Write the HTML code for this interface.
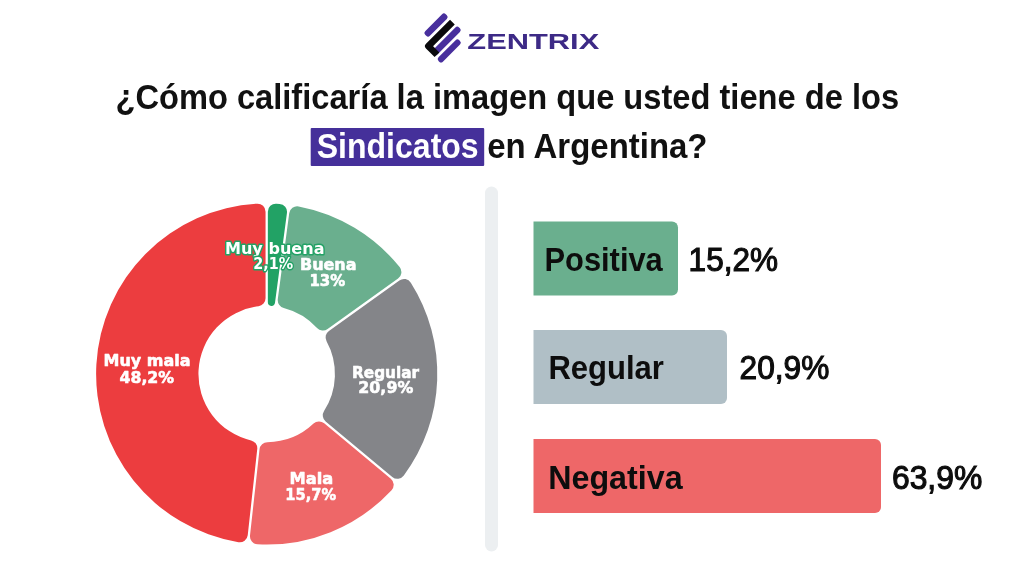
<!DOCTYPE html>
<html lang="es">
<head>
<meta charset="utf-8">
<title>Zentrix - Imagen de los Sindicatos en Argentina</title>
<style>
html,body{margin:0;padding:0;background:#fff;}
body{width:1024px;height:576px;overflow:hidden;position:relative;font-family:"Liberation Sans",sans-serif;}
svg{position:absolute;left:0;top:0;display:block;}
text{font-family:"Liberation Sans",sans-serif;}
.dl text{font-family:"DejaVu Sans","Liberation Sans",sans-serif;font-weight:bold;font-size:16.6px;fill:#fff;stroke-width:3px;paint-order:stroke fill;stroke-linejoin:round;}
.d0{stroke:#22a265;}.dl .d1,.dl .d2,.dl .d3,.dl .d4{stroke:#fff;stroke-width:0.6px;}
.h{font-weight:bold;font-size:35px;fill:#111;}
.hw{font-weight:bold;font-size:35px;fill:#fff;}
.bl{font-size:34px;font-weight:bold;fill:#0d0d0d;}
.bv{font-size:33px;fill:#0d0d0d;stroke:#0d0d0d;stroke-width:1.1px;stroke-linejoin:miter;}
.logo{font-size:22.6px;font-weight:bold;fill:#3d2a86;}
</style>
</head>
<body>
<svg width="1024" height="576" viewBox="0 0 1024 576">
<!-- logo -->
<g id="logo-mark">
<rect x="-14.55" y="-3.35" width="29.1" height="6.7" rx="2.6" fill="#482f9d" transform="translate(436.0,25.05) rotate(-45)"/>
<rect x="-19.5" y="-3.2" width="37" height="6.4" rx="2.6" fill="#482f9d" transform="translate(447.1,40.2) rotate(-45)"/>
<rect x="-14.7" y="-3.1" width="29.4" height="6.2" rx="2.6" fill="#482f9d" transform="translate(449.25,50.95) rotate(-45)"/>
<path d="M452.4,22.1 L428.35,46.15 L436.95,54.75" fill="none" stroke="#0a0a0c" stroke-width="6.7" stroke-linejoin="round" stroke-linecap="butt"/>
</g>
<text id="logo" class="logo" x="467.39" y="48.9" textLength="131.85" lengthAdjust="spacingAndGlyphs">ZENTRIX</text>
<!-- heading -->
<text id="h1" class="h" x="115.44" y="108.6" textLength="783.65" lengthAdjust="spacingAndGlyphs">¿Cómo calificaría la imagen que usted tiene de los</text>
<rect x="310.7" y="128.1" width="173.5" height="38" rx="1" fill="#45309a"/>
<text id="h2a" class="hw" x="316.69" y="157.8" textLength="162.00" lengthAdjust="spacingAndGlyphs">Sindicatos</text>
<text id="h2b" class="h" x="487.18" y="157.8" textLength="220.30" lengthAdjust="spacingAndGlyphs">en Argentina?</text>
<!-- divider -->
<rect x="485" y="186.5" width="13" height="365" rx="6.5" fill="#eceff1"/>
<!-- donut -->
<g transform="translate(266.7,374.0)"><path d="M1.15,-162.34A8,8,0,0,1,9.6,-170.33A170.6,170.6,0,0,1,12.92,-170.11A8,8,0,0,1,20.24,-161.08L8.3,-71.2A3.59,3.59,0,0,1,1.15,-71.68Z" fill="#22a265"/><path d="M22.52,-160.78A8,8,0,0,1,31.95,-167.58A170.6,170.6,0,0,1,132.93,-106.92A8,8,0,0,1,131.36,-95.4L60.89,-44.98A8,8,0,0,1,50.33,-46.08A68.24,68.24,0,0,0,17.04,-66.08A8,8,0,0,1,11.11,-74.88Z" fill="#6aaf8e"/><path d="M132.69,-93.54A8,8,0,0,1,144.11,-91.31A170.6,170.6,0,0,1,137.13,101.49A8,8,0,0,1,125.59,102.88L58.94,47.49A8,8,0,0,1,57.34,37A68.24,68.24,0,0,0,59.86,-32.76A8,8,0,0,1,62.22,-43.11Z" fill="#848589"/><path d="M124.12,104.65A8,8,0,0,1,124.86,116.25A170.6,170.6,0,0,1,-9.17,170.35A8,8,0,0,1,-16.69,161.49L-7.17,75.36A8,8,0,0,1,0.7,68.24A68.24,68.24,0,0,0,46.87,49.6A8,8,0,0,1,57.48,49.26Z" fill="#ee6768"/><path d="M-18.97,161.23A8,8,0,0,1,-28.25,168.24A170.6,170.6,0,0,1,-9.6,-170.33A8,8,0,0,1,-1.15,-162.34L-1.15,-75.69A8,8,0,0,1,-8.19,-67.75A68.24,68.24,0,0,0,-15.58,66.44A8,8,0,0,1,-9.46,75.1Z" fill="#ec3d3f"/></g>
<g class="dl"><text id="d0a" class="d0" x="224.91" y="253.6" textLength="99.60" lengthAdjust="spacingAndGlyphs">Muy buena</text><text id="d0b" class="d0" x="253.16" y="268.9" textLength="39.90" lengthAdjust="spacingAndGlyphs">2,1%</text><text id="d1a" class="d1" x="299.98" y="269.7" textLength="56.50" lengthAdjust="spacingAndGlyphs">Buena</text><text id="d1b" class="d1" x="309.45" y="286.0" textLength="35.80" lengthAdjust="spacingAndGlyphs">13%</text><text id="d2a" class="d2" x="352.03" y="377.8" textLength="67.05" lengthAdjust="spacingAndGlyphs">Regular</text><text id="d2b" class="d2" x="358.33" y="393.2" textLength="54.95" lengthAdjust="spacingAndGlyphs">20,9%</text><text id="d3a" class="d3" x="289.62" y="484.3" textLength="43.75" lengthAdjust="spacingAndGlyphs">Mala</text><text id="d3b" class="d3" x="285.33" y="500.1" textLength="50.80" lengthAdjust="spacingAndGlyphs">15,7%</text><text id="d4a" class="d4" x="103.51" y="366.4" textLength="87.00" lengthAdjust="spacingAndGlyphs">Muy mala</text><text id="d4b" class="d4" x="119.45" y="382.8" textLength="54.70" lengthAdjust="spacingAndGlyphs">48,2%</text></g>
<!-- bars -->
<path d="M533.5,221.5 h138.5 a6.0,6.0 0 0 1 6.0,6.0 v62.0 a6.0,6.0 0 0 1 -6.0,6.0 h-138.5 z" fill="#6aaf8e"/>
<text id="b0a" class="bl" x="544.47" y="270.9" textLength="118.30" lengthAdjust="spacingAndGlyphs">Positiva</text>
<text id="b0b" class="bv" x="688.61" y="270.9" textLength="89.40" lengthAdjust="spacingAndGlyphs">15,2%</text>
<path d="M533.5,330.0 h187.5 a6.0,6.0 0 0 1 6.0,6.0 v62.0 a6.0,6.0 0 0 1 -6.0,6.0 h-187.5 z" fill="#b0bfc6"/>
<text id="b1a" class="bl" x="548.45" y="379.4" textLength="115.45" lengthAdjust="spacingAndGlyphs">Regular</text>
<text id="b1b" class="bv" x="739.62" y="379.4" textLength="89.75" lengthAdjust="spacingAndGlyphs">20,9%</text>
<path d="M533.5,439.0 h341.5 a6.0,6.0 0 0 1 6.0,6.0 v62.0 a6.0,6.0 0 0 1 -6.0,6.0 h-341.5 z" fill="#ee6768"/>
<text id="b2a" class="bl" x="548.22" y="488.6" textLength="134.35" lengthAdjust="spacingAndGlyphs">Negativa</text>
<text id="b2b" class="bv" x="891.98" y="488.6" textLength="90.25" lengthAdjust="spacingAndGlyphs">63,9%</text>
</svg>
</body>
</html>
